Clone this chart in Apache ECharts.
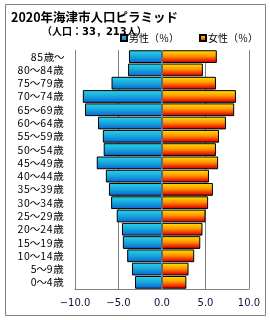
<!DOCTYPE html>
<html>
<head>
<meta charset="utf-8">
<script src="https://cdn.jsdelivr.net/npm/echarts@6/dist/echarts.min.js"></script>
<style>
html,body{margin:0;padding:0;background:#fff;}
#c{width:270px;height:320px;}
</style>
</head>
<body>
<div id="c"></div>
<script>
// Age groups, bottom to top
var ages = ['0～4歳','5～9歳','10～14歳','15～19歳','20～24歳','25～29歳','30～34歳','35～39歳','40～44歳','45～49歳','50～54歳','55～59歳','60～64歳','65～69歳','70～74歳','75～79歳','80～84歳','85歳～'];
// Male share (%), negative to draw on the left
var male = [-3.1,-3.45,-4.0,-4.5,-4.6,-5.2,-5.85,-6.1,-6.45,-7.5,-6.7,-6.8,-7.35,-8.85,-9.1,-5.8,-3.9,-3.8];
// Female share (%)
var female = [2.8,3.05,3.7,4.4,4.65,5.0,5.3,5.85,5.4,6.45,6.2,6.55,7.35,8.3,8.5,6.2,4.7,6.3];
var seriesNames = ['男性（％）','女性（％）'];
var xTicks = [-10,-5,0,5,10];
var titleText = '2020年海津市人口ピラミッド';
var subText = '（人口：33，213人）';

var FONT = '"Noto Sans CJK JP", sans-serif';
var MIX = '"DejaVu Sans", "Noto Sans CJK JP", sans-serif';
var chart = echarts.init(document.getElementById('c'));
var maleGrad = new echarts.graphic.LinearGradient(0,0,0,1,[
  {offset:0,color:'#2ED2E6'},{offset:0.5,color:'#16A6DC'},{offset:1,color:'#0A62CE'}]);
var femaleGrad = new echarts.graphic.LinearGradient(0,0,0,1,[
  {offset:0,color:'#FFE400'},{offset:0.45,color:'#FF9800'},{offset:0.8,color:'#F02400'},{offset:1,color:'#B00000'}]);

function spaced(s){
  var out='';
  for(var i=0;i<s.length;i++){
    var c=s.charAt(i);
    if(/[0-9]/.test(c)) out+='{d|'+c+'}';
    else if(c==='～') out+='{t|'+c+'}';
    else out+='{k|'+c+'}';
  }
  return out;
}

chart.setOption({
  animation:false,
  textStyle:{fontFamily:FONT},
  title:[
    {text:titleText,left:6,top:6,textStyle:{fontSize:12.5,fontWeight:'bold',color:'#000',fontFamily:FONT}},
    {text:subText,left:37,top:22,textStyle:{fontSize:10,fontWeight:'bold',color:'#000',fontFamily:MIX}}
  ],
  legend:{
    data:seriesNames,
    left:115,top:28,
    icon:'rect',itemWidth:6,itemHeight:6,itemGap:20,
    textStyle:{fontSize:10,color:'#000',fontFamily:FONT,padding:[0,0,0,-3]}
  },
  graphic:[{type:'rect',shape:{x:5.5,y:4.5,width:260,height:311},style:{fill:'none',stroke:'#808080',lineWidth:1},silent:true}],
  grid:{left:75,right:21,top:50,bottom:31,containLabel:false},
  xAxis:{
    type:'value',min:-10,max:10,interval:5,
    axisLine:{show:true,onZero:false,lineStyle:{color:'#808080'}},
    axisTick:{show:false},
    splitLine:{show:true,lineStyle:{color:'#808080',width:1}},
    axisLabel:{fontSize:10,color:'#101040',margin:9,fontFamily:MIX,
      formatter:function(v){return (v<0?'−':'')+Math.abs(v).toFixed(1);}}
  },
  yAxis:{
    type:'category',data:ages,
    axisLine:{show:false},axisTick:{show:false},
    axisLabel:{color:'#000',margin:11,interval:0,
      formatter:function(v){return spaced(v);},
      rich:{
        d:{fontSize:10.5,fontFamily:FONT,color:'#000',width:6.6,align:'center'},
        t:{fontSize:10.5,fontFamily:FONT,color:'#000',width:9.5,align:'center'},
        k:{fontSize:10.5,fontFamily:FONT,color:'#000',width:11,align:'center'}
      }}
  },
  series:[
    {name:seriesNames[0],type:'bar',stack:'p',data:male,barCategoryGap:'4%',
     itemStyle:{color:maleGrad,borderColor:'#000',borderWidth:1},
     markLine:{silent:true,symbol:'none',label:{show:false},
       lineStyle:{color:'#7090B0',width:1.5,type:'solid'},data:[{xAxis:0}]}},
    {name:seriesNames[1],type:'bar',stack:'p',data:female,barCategoryGap:'4%',
     itemStyle:{color:femaleGrad,borderColor:'#000',borderWidth:1}}
  ]
});
</script>
</body>
</html>
